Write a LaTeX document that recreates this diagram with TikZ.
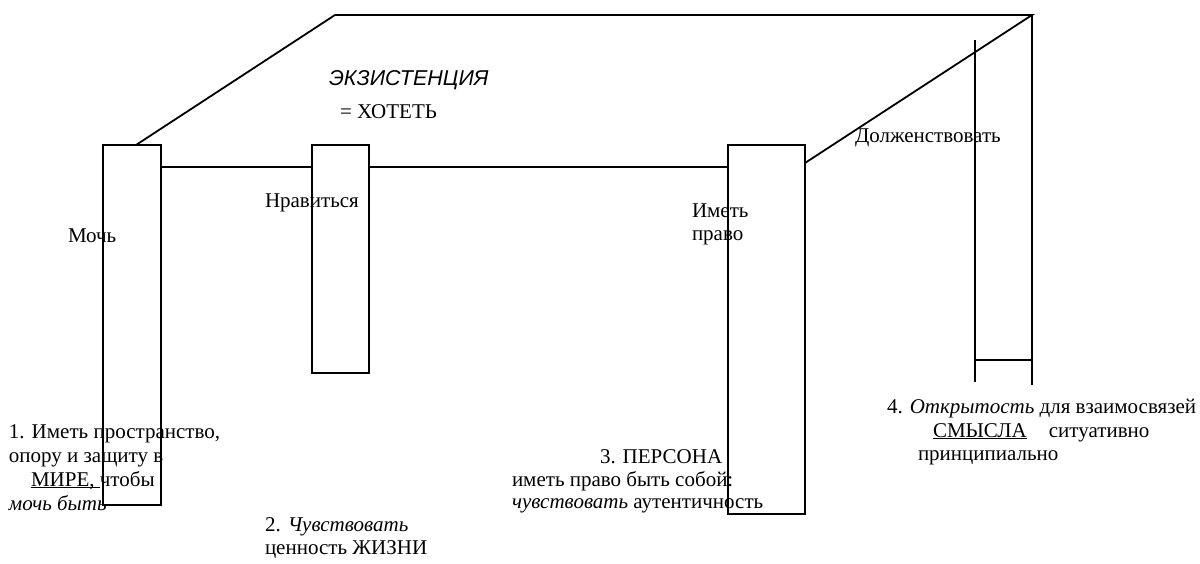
\documentclass[tikz,border=0pt]{standalone}
\usepackage{fontspec}
\setmainfont{Liberation Serif}
\setsansfont{Liberation Sans}
\begin{document}
\begin{tikzpicture}[x=1pt,y=-1pt,
  leg/.style={draw,line width=1.8pt,rectangle,inner sep=0pt,outer sep=0pt,anchor=north west},
  edge/.style={line width=1.8pt},
  txt/.style={anchor=base west,inner sep=0pt,outer sep=0pt,font=\fontsize{21}{24}\selectfont}]
\useasboundingbox (0,0) rectangle (1200,563);
% legs
\node[leg,minimum width=58pt,minimum height=360pt] (leg1) at (103,145) {};
\node[leg,minimum width=57pt,minimum height=228pt] (leg2) at (312,145) {};
\node[leg,minimum width=77pt,minimum height=369pt] (leg3) at (728,145) {};
% table top corners
\coordinate (p1) at (136,145);
\coordinate (tl) at (335,15);
\coordinate (tr) at (1032,15);
\coordinate (p3) at (805,163);
\coordinate (rb) at (1032,385);
\coordinate (lt) at (975,40);
\coordinate (lb) at (975,382);
\coordinate (hl) at (975,360);
\coordinate (hr) at (1032,360);
\draw[edge] (p1) -- (tl) -- (tr) -- (p3);
\draw[edge] (tr) -- (rb);
\draw[edge] (lt) -- (lb);
\draw[edge] (hl) -- (hr);
\draw[edge] (leg1.east |- 0,167) -- (leg2.west |- 0,167);
\draw[edge] (leg2.east |- 0,167) -- (leg3.west |- 0,167);
% texts
\node[txt,font=\fontsize{21.5}{24}\selectfont\sffamily\itshape] (ex) at (329,85) {ЭКЗИСТЕНЦИЯ};
\node[txt] (xo) at (340,118) {= ХОТЕТЬ};
\node[txt] (nr) at (265,207) {Нравиться};
\node[txt] (mo) at (68,242) {Мочь};
\node[txt] (im1) at (692,217) {Иметь};
\node[txt] (im2) at (692,240) {право};
\node[txt] (do) at (855,142) {Долженствовать};
\node[txt] (a1) at (9,438) {1. Иметь пространство,};
\node[txt] (a2) at (9,462) {опору и защиту в};
\node[txt] (a3) at (31,486) {\underline{\smash{МИРЕ,\ }}чтобы};
\node[txt] (a4) at (9,510) {\itshape мочь быть};
\node[txt] (b1) at (265,531) {2. \textit{Чувствовать}};
\node[txt] (b2) at (265,554) {ценность ЖИЗНИ};
\node[txt] (c1) at (600,463) {3. ПЕРСОНА};
\node[txt] (c2) at (512,486) {иметь право быть собой:};
\node[txt] (c3) at (512,508) {\textit{чувствовать} аутентичность};
\node[txt] (d1) at (887,413) {4. \textit{Открытость} для взаимосвязей};
\node[txt] (d2) at (933,437) {\underline{\smash{СМЫСЛА}}\hspace{22pt}ситуативно};
\node[txt] (d3) at (918,460) {принципиально};
\end{tikzpicture}
\end{document}
